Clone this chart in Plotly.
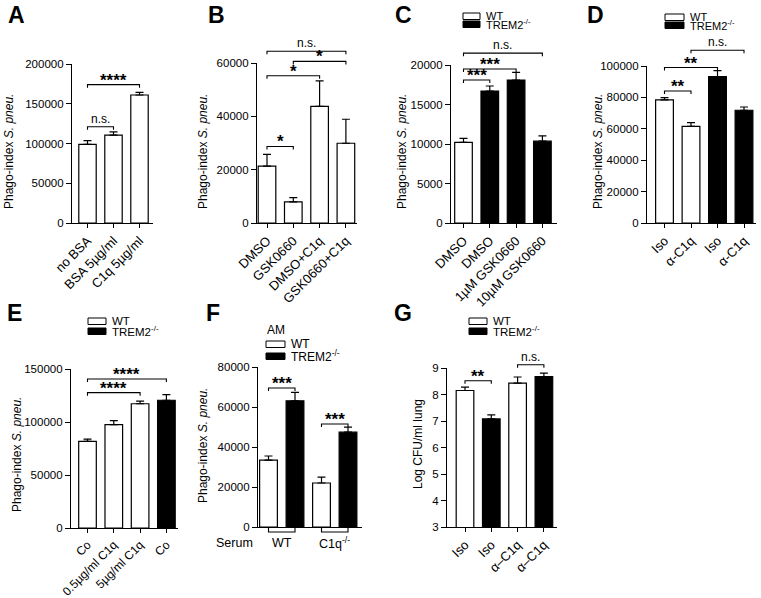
import plotly.graph_objects as go

W, H = 761, 598
FONT = "Liberation Sans, Arial, Helvetica, sans-serif"

# ---------------- data ----------------
a_labels = ["no BSA", "BSA 5µg/ml", "C1q 5µg/ml"]
a_values = [99000, 110500, 161000]
a_errors = [4500, 4000, 3300]
a_groups = ["WT", "WT", "WT"]
a_sig = [(0, 1, 121000, "n.s."), (0, 2, 174000, "****")]

b_labels = ["DMSO", "GSK0660", "DMSO+C1q", "GSK0660+C1q"]
b_values = [21300, 7900, 43700, 29900]
b_errors = [4400, 1600, 9600, 9000]
b_groups = ["WT", "WT", "WT", "WT"]
b_sig = [(0, 1, 28700, "*"), (0, 2, 55200, "*"), (1, 3, 60600, "*"), (0, 3, 64400, "n.s.")]

c_labels = ["DMSO", "DMSO", "1µM GSK0660", "10µM GSK0660"]
c_values = [10200, 16700, 18100, 10360]
c_errors = [500, 640, 970, 680]
c_groups = ["WT", "TREM2", "TREM2", "TREM2"]
c_sig = [(0, 1, 18100, "***"), (0, 2, 19500, "***"), (0, 3, 21500, "n.s.")]

d_labels = ["Iso", "α-C1q", "Iso", "α-C1q"]
d_values = [78400, 61600, 93200, 71800]
d_errors = [1500, 2300, 3800, 2100]
d_groups = ["WT", "WT", "TREM2", "TREM2"]
d_sig = [(0, 1, 84100, "**"), (0, 2, 99000, "**"), (1, 3, 110000, "n.s.")]

e_labels = ["Co", "0.5µg/ml C1q", "5µg/ml C1q", "Co"]
e_values = [81800, 97500, 117200, 120500]
e_errors = [2000, 3800, 2500, 5300]
e_groups = ["WT", "WT", "WT", "TREM2"]
e_sig = [(0, 2, 127700, "****"), (0, 3, 140600, "****")]

f_serum = ["WT", "C1q<sup>-/-</sup>"]
f_values = [33400, 63100, 22000, 47400]
f_errors = [2100, 4200, 2900, 2500]
f_groups = ["WT", "TREM2", "WT", "TREM2"]
f_sig = [(0, 1, 69500, "***"), (2, 3, 51500, "***")]

g_labels = ["Iso", "Iso", "α–C1q", "α–C1q"]
g_values = [8.15, 7.08, 8.43, 8.68]
g_errors = [0.13, 0.15, 0.23, 0.13]
g_groups = ["WT", "TREM2", "WT", "TREM2"]
g_sig = [(0, 1, 8.52, "**"), (2, 3, 9.125, "n.s.")]

legend_labels = ["WT", "TREM2<sup>-/-</sup>"]
group_colors = {"WT": "white", "TREM2": "black"}

YT_PHAGO = "Phago-index <i>S. pneu.</i>"

# ---------------- layout geometry (pixels) ----------------
# legend: (left, top, header, box width, box height, row gap, font size)
panels = [
    dict(letter="A", labels=a_labels, values=a_values, errors=a_errors, groups=a_groups, sig=a_sig,
         left=72, right=153, top=64, bottom=223, c0=87.5, s=26.0, yr=(0, 200000), dtick=50000,
         ytitle=YT_PHAGO, yt=(9, 152), lp=(16, 15), legend=None, xfs=13),
    dict(letter="B", labels=b_labels, values=b_values, errors=b_errors, groups=b_groups, sig=b_sig,
         left=257, right=357, top=63, bottom=223, c0=267, s=26.3, yr=(0, 60000), dtick=20000,
         ytitle=YT_PHAGO, yt=(203, 152), lp=(216.5, 15), legend=None, xfs=13),
    dict(letter="C", labels=c_labels, values=c_values, errors=c_errors, groups=c_groups, sig=c_sig,
         left=451, right=557, top=65, bottom=223, c0=463.5, s=26.3, yr=(0, 20000), dtick=5000,
         ytitle=YT_PHAGO, yt=(402, 152), lp=(403.5, 15), legend=(463, 13, None, 17, 6.5, 8, 11),
         xfs=13),
    dict(letter="D", labels=d_labels, values=d_values, errors=d_errors, groups=d_groups, sig=d_sig,
         left=647, right=756, top=66, bottom=223, c0=664.5, s=26.5, yr=(0, 100000), dtick=20000,
         ytitle=YT_PHAGO, yt=(598, 152), lp=(595, 15), legend=(665, 14, None, 19, 6.5, 8, 11),
         xfs=13),
    dict(letter="E", labels=e_labels, values=e_values, errors=e_errors, groups=e_groups, sig=e_sig,
         left=71, right=178, top=369, bottom=528, c0=87.5, s=26.3, yr=(0, 150000), dtick=50000,
         ytitle=YT_PHAGO, yt=(17, 455), lp=(14.5, 313), legend=(88, 318, None, 18, 6.5, 10, 11.5),
         xfs=12),
    dict(letter="F", labels=None, values=f_values, errors=f_errors, groups=f_groups, sig=f_sig,
         left=258, right=362, top=367, bottom=527, c0=268.5, s=26.5, yr=(0, 80000), dtick=20000,
         ytitle=YT_PHAGO, yt=(203, 446), lp=(212.5, 313), legend=(266, 341, "AM", 19, 6.5, 12, 12),
         xfs=13),
    dict(letter="G", labels=g_labels, values=g_values, errors=g_errors, groups=g_groups, sig=g_sig,
         left=447, right=557, top=368, bottom=527, c0=465, s=26.3, yr=(3, 9), dtick=1,
         ytitle="Log CFU/ml lung", yt=(418, 444), lp=(402.5, 313),
         legend=(469, 318, None, 18, 6.5, 10, 11.5), xfs=13),
]


def px2x(px):
    return px / W


def py2y(py):
    return 1 - py / H


fig = go.Figure()
shapes = []
annotations = []
layout_axes = {}

for i, p in enumerate(panels):
    k = "" if i == 0 else str(i + 1)
    n = len(p["values"])
    xs = list(range(n))
    xr = [(p["left"] - p["c0"]) / p["s"], (p["right"] - p["c0"]) / p["s"]]
    y0, y1 = p["yr"]

    def xmap(xv, p=p):
        return px2x(p["c0"] + xv * p["s"])

    def ymap(v, p=p, y0=y0, y1=y1):
        return py2y(p["bottom"] - (v - y0) / (y1 - y0) * (p["bottom"] - p["top"]))

    fig.add_trace(go.Bar(
        x=xs, y=p["values"], width=0.67,
        marker=dict(color=[group_colors[g] for g in p["groups"]],
                    line=dict(color="black", width=1.2)),
        error_y=dict(type="data", symmetric=False, array=p["errors"],
                     arrayminus=[0] * n, color="black", thickness=1.2, width=4),
        xaxis="x" + k, yaxis="y" + k, showlegend=False, hoverinfo="skip",
    ))

    xa = dict(domain=[px2x(p["left"]), px2x(p["right"])], anchor="y" + k, range=xr,
              showline=True, linecolor="black", linewidth=1.2, showgrid=False, zeroline=False,
              automargin=False,
              tickfont=dict(size=p["xfs"], color="black", family=FONT), fixedrange=True)
    if p["labels"] is not None:
        xa.update(tickmode="array", tickvals=xs, ticktext=p["labels"], tickangle=-45,
                  ticks="outside", ticklen=4, tickwidth=1.2, tickcolor="black")
    else:
        xa.update(showticklabels=False, ticks="")
    ya = dict(domain=[py2y(p["bottom"]), py2y(p["top"])], anchor="x" + k, range=[y0, y1],
              tick0=y0, dtick=p["dtick"], tickformat="d", ticks="outside", ticklen=5,
              tickwidth=1.2, tickcolor="black", showline=True, linecolor="black", linewidth=1.2,
              showgrid=False, zeroline=False, automargin=False,
              tickfont=dict(size=11.5, color="black", family=FONT), fixedrange=True)
    layout_axes["xaxis" + k] = xa
    layout_axes["yaxis" + k] = ya

    # y title
    annotations.append(dict(text=p["ytitle"], x=px2x(p["yt"][0]), y=py2y(p["yt"][1]),
                            xref="paper", yref="paper", textangle=-90, showarrow=False,
                            xanchor="center", yanchor="middle",
                            font=dict(size=12, color="black", family=FONT)))
    # panel letter
    annotations.append(dict(text="<b>%s</b>" % p["letter"], x=px2x(p["lp"][0]), y=py2y(p["lp"][1]),
                            xref="paper", yref="paper", showarrow=False,
                            xanchor="center", yanchor="middle",
                            font=dict(size=23, color="black", family=FONT)))

    # significance brackets
    for (a, b, hv, txt) in p["sig"]:
        ya_ = ymap(hv)
        drop = 3.0 / H
        shapes.append(dict(type="path", xref="paper", yref="paper",
                           path="M %f %f L %f %f L %f %f L %f %f" % (
                               xmap(a), ya_ - drop, xmap(a), ya_, xmap(b), ya_, xmap(b), ya_ - drop),
                           line=dict(color="black", width=1.1)))
        star = "*" in txt
        annotations.append(dict(text="<b>%s</b>" % txt if star else txt,
                                x=(xmap(a) + xmap(b)) / 2, y=ya_, xref="paper", yref="paper",
                                showarrow=False, xanchor="center", yanchor="bottom",
                                yshift=-7 if star else -1,
                                font=dict(size=17 if star else 12, color="black", family=FONT)))

    # legend
    if p["legend"] is not None:
        lx, ly, head, bw, bh, gap, fs = p["legend"]
        if head:
            annotations.append(dict(text=head, x=px2x(lx - 1), y=py2y(ly - 11), xref="paper",
                                    yref="paper", showarrow=False, xanchor="left", yanchor="middle",
                                    font=dict(size=12, color="black", family=FONT)))
        for j, (lab, col) in enumerate(zip(legend_labels, ["white", "black"])):
            top = ly + j * gap
            shapes.append(dict(type="rect", xref="paper", yref="paper",
                               x0=px2x(lx), x1=px2x(lx + bw), y0=py2y(top + bh), y1=py2y(top),
                               fillcolor=col, line=dict(color="black", width=1)))
            annotations.append(dict(text=lab, x=px2x(lx + bw + 4), y=py2y(top + bh / 2),
                                    xref="paper", yref="paper", showarrow=False,
                                    xanchor="left", yanchor="middle",
                                    font=dict(size=fs, color="black", family=FONT)))

# Panel F: serum labels and under-axis brackets
pf = panels[5]


def fx(xv):
    return px2x(pf["c0"] + xv * pf["s"])


for j, lab in enumerate(f_serum):
    a, b = 2 * j, 2 * j + 1
    yb = py2y(pf["bottom"])
    d = 5.0 / H
    shapes.append(dict(type="path", xref="paper", yref="paper",
                       path="M %f %f L %f %f L %f %f L %f %f" % (
                           fx(a), yb, fx(a), yb - d, fx(b), yb - d, fx(b), yb),
                       line=dict(color="black", width=1.1)))
    annotations.append(dict(text=lab, x=(fx(a) + fx(b)) / 2, y=py2y(543), xref="paper", yref="paper",
                            showarrow=False, xanchor="center", yanchor="middle",
                            font=dict(size=12.5, color="black", family=FONT)))
annotations.append(dict(text="Serum", x=px2x(234.5), y=py2y(543), xref="paper", yref="paper",
                        showarrow=False, xanchor="center", yanchor="middle",
                        font=dict(size=12.5, color="black", family=FONT)))

fig.update_layout(
    width=W, height=H, margin=dict(l=0, r=0, t=0, b=0, pad=0, autoexpand=False),
    paper_bgcolor="white", plot_bgcolor="white", showlegend=False,
    barmode="overlay", font=dict(family=FONT, color="black"),
    shapes=shapes, annotations=annotations, **layout_axes,
)

fig.write_html("out.html", config={"displayModeBar": False},
               post_script="document.body.style.margin='0';document.body.style.overflow='hidden';")
